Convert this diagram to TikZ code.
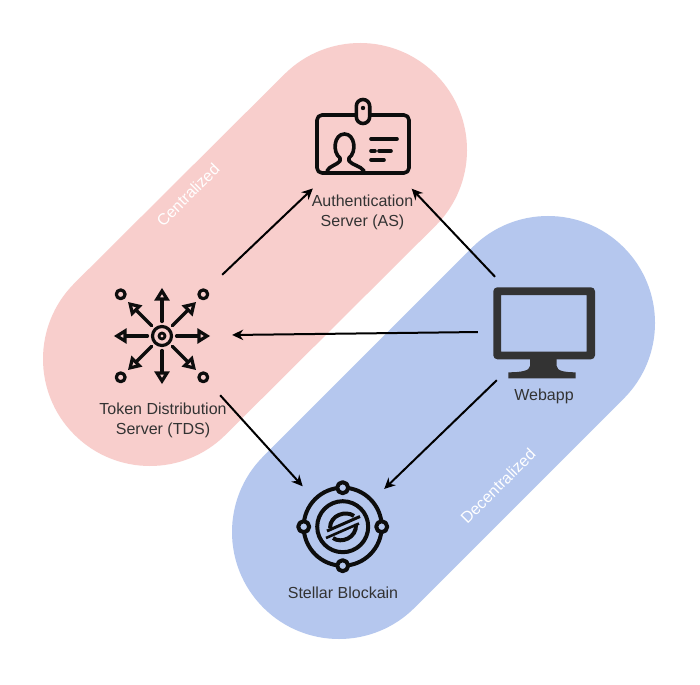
\documentclass[tikz,border=0pt]{standalone}
\usepackage{fontspec}
\setmainfont{Liberation Sans}
\usetikzlibrary{
    arrows.meta,
    positioning
}
\definecolor{pillred}{HTML}{F8CECC}
\definecolor{pillblue}{HTML}{B5C7EE}
\definecolor{inkdark}{HTML}{333333}
\definecolor{inkicon}{HTML}{0D0D0D}
\tikzset{
    pill/.style={
        line width=214pt, line cap=round, draw=#1
    },
    iconbox/.style={
        shape=rectangle, inner sep=0pt, minimum width=#1
    },
    caption/.style={
        font=\fontsize{16}{20}\selectfont, text=inkdark, align=center, inner sep=0pt
    },
    pilltext/.style={
        font=\fontsize{16}{20}\selectfont, text=white, rotate=45, inner sep=0pt
    },
    flow/.style={
        -{Stealth[length=11pt,width=10.5pt]}, line width=2pt, black
    },
    iconline/.style={
        draw=inkicon, line width=3.6pt, line cap=round, line join=round
    },
}
\begin{document}
\begin{tikzpicture}[x=1pt,y=-1pt]
    \useasboundingbox[fill=white] (0,0) rectangle (700,684);
    % the two bands
    \draw[pill=pillred] (150,359) -- (360,150);
    \draw[pill=pillblue] (339,532) -- (548,323);
    \node[pilltext] (centralized) at (188,195) {Centralized};
    \node[pilltext] (decentralized) at (498,486) {Decentralized};
    % boxes the arrows leave from
    \node[iconbox=140pt, minimum height=120pt] (tds) at (162,335) {};
    \node[iconbox=100pt, minimum height=97pt] (as) at (363,140) {};
    \node[iconbox=134pt, minimum height=103pt] (webapp) at (545,328.5) {};
    \node[iconbox=84pt, minimum height=81pt] (stellar) at (342,527) {};
    % id card
    \draw[iconline, rounded corners=5pt] (317,115) rectangle (409,173);
    \draw[iconline, fill=pillred] (356.3,106.2) arc[start angle=180, end angle=360, radius=6.7]
        -- (369.7,116.8) arc[start angle=0, end angle=180, radius=6.7] -- cycle;
    \fill[inkicon] (363,108) circle (2.2pt);
    \draw[iconline] (327,171) .. controls (329,166) and (337,165) .. (340,161)
        -- (340,158) .. controls (332,152) and (334,134) .. (344.5,134)
        .. controls (355,134) and (357,152) .. (349,158)
        -- (349,161) .. controls (352,165) and (361,166) .. (364,171);
    \draw[iconline] (371,139) -- (397,139);
    \draw[iconline] (371,151) -- (375,151) (379,151) -- (391,151);
    \draw[iconline] (371,160) -- (384,160);
    % token distribution
    \draw[iconline, line width=3.2pt] (162,336) circle (9.5pt);
    \draw[iconline, line width=2.8pt] (162,336) circle (3pt);
    \foreach \a in {0,45,...,315} {
        \begin{scope}[shift={(162,336)}, rotate=\a]
            \draw[iconline, line width=3.2pt] (14.5,0) -- (37,0);
            \draw[iconline, line width=3.2pt, fill=pillred, line join=miter] (37,-5) -- (45,0) -- (37,5) -- cycle;
        \end{scope}
    }
    \foreach \cx/\cy in {120.7/294.3,203.3/294.3,120.7/377.3,203.3/377.3} {
        \draw[iconline, line width=3.2pt] (\cx,\cy) circle (4.4pt);
    }
    % stellar
    \draw[iconline, line width=4pt] (342.7,526.7) circle (39pt);
    \draw[iconline, line width=4pt] (342.7,526.7) circle (25.5pt);
    \foreach \cx/\cy in {342.7/487.7,381.7/526.7,342.7/565.7,303.7/526.7} {
        \draw[iconline, fill=pillblue, line width=4pt] (\cx,\cy) circle (5.5pt);
    }
    \draw[iconline, line width=3pt, line cap=butt] (327,531) -- (360,516.5);
    \draw[iconline, line width=2.6pt, line cap=butt] (326,538) -- (359,523.5);
    \draw[iconline, line width=4pt, line cap=butt] (330,528) .. controls (330,515) and (346,510) .. (354,516);
    \draw[iconline, line width=4pt, line cap=butt] (356,524) .. controls (357,538) and (341,544) .. (333,538);
    % monitor
    \fill[inkdark, even odd rule, rounded corners=4pt] (493.3,287.3) rectangle (595,359.3)
        [sharp corners] (501,295) rectangle (586.7,351.7);
    \fill[inkdark] (530,358) -- (530,366) .. controls (530,371) and (520,372.3) .. (508.3,372.3)
        -- (508.3,378.3) -- (575.7,378.3) -- (575.7,372.3)
        .. controls (565,372.3) and (556.7,371) .. (556.7,366) -- (556.7,358) -- cycle;
    % captions
    \node[caption] (as text) at (362.5,212) {Authentication\\Server (AS)};
    \node[caption] (tds text) at (163,420) {Token Distribution\\Server (TDS)};
    \node[caption] (webapp text) at (544,396) {Webapp};
    \node[caption] (stellar text) at (343,593) {Stellar Blockain};
    % arrows
    \draw[flow] (tds.45) -- (as.224);
    \draw[flow] (webapp.134) -- (as.-45);
    \draw[flow] (webapp.183.8) -- (tds.0);
    \draw[flow] (tds.-46.5) -- (stellar.134);
    \draw[flow] (webapp.227) -- (stellar.42);
\end{tikzpicture}
\end{document}
